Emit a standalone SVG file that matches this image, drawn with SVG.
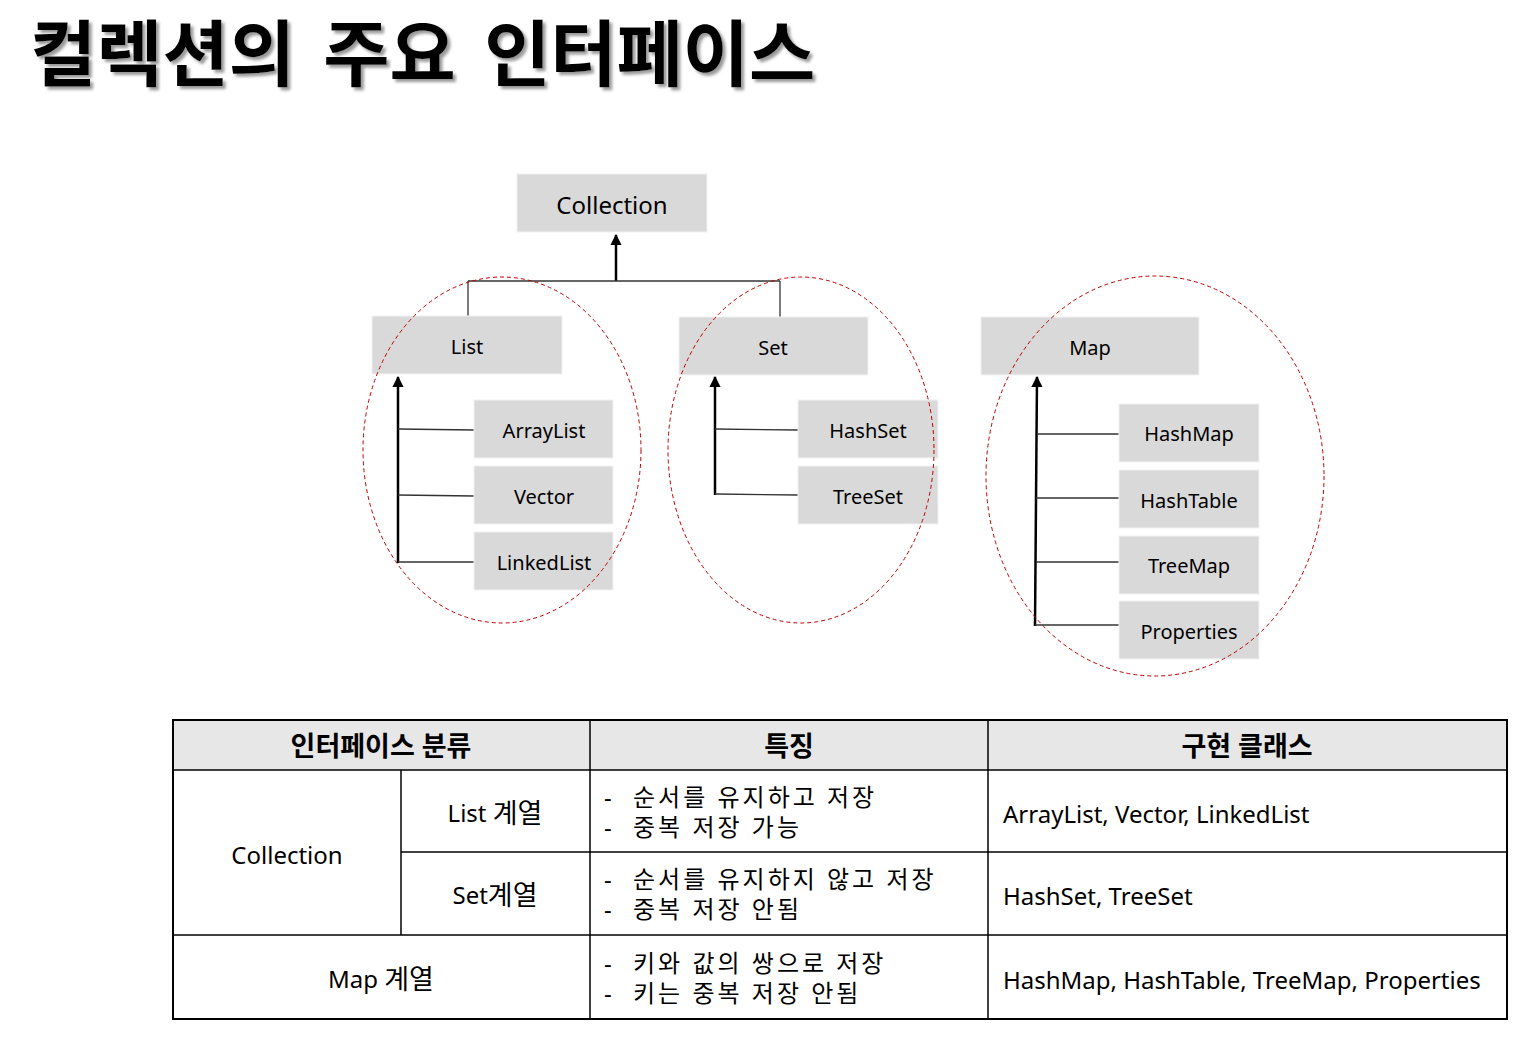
<svg xmlns="http://www.w3.org/2000/svg" width="1536" height="1046" viewBox="0 0 1536 1046">
<style>
text{font-family:"Noto Sans","Noto Sans CJK KR",sans-serif;fill:#000}
.k{font-size:27px}
.ks{letter-spacing:3px}
.box{fill:#d9d9d9;stroke:#f2f2f2;stroke-width:1}
.bt{font-size:20px;text-anchor:middle;dominant-baseline:central}
.ell{fill:none;stroke:#c00000;stroke-width:1;stroke-dasharray:4 3}
.ln{stroke:#333;stroke-width:1.3;fill:none}
.arr{stroke:#000;stroke-width:2.5;fill:none}
.tb{stroke:#000;stroke-width:1.5;fill:none}
.th{font-size:27px;font-weight:bold;text-anchor:middle;dominant-baseline:central}
.td{font-size:24px;dominant-baseline:central}
.tc{font-size:24px;text-anchor:middle;dominant-baseline:central}
.title{font-family:"Noto Sans CJK KR",sans-serif;font-size:72px;font-weight:bold;word-spacing:12px}
</style>
<defs>
<marker id="ah" viewBox="0 0 10 10" refX="9" refY="5" markerWidth="4.5" markerHeight="4.5" orient="auto"><path d="M0,0 L10,5 L0,10 z" fill="#000"/></marker>
<filter id="sh" filterUnits="userSpaceOnUse" x="0" y="0" width="900" height="110"><feDropShadow dx="3" dy="3" stdDeviation="1.5" flood-color="#808080" flood-opacity="0.8"/></filter>
</defs>
<g id="title">
<text class="title" x="30" y="80" filter="url(#sh)">컬렉션의 주요 인터페이스</text>
</g>
<g id="connectors">
<line class="arr" x1="616" y1="281" x2="616" y2="235" marker-end="url(#ah)"/>
<line class="ln" x1="468" y1="281" x2="780" y2="281"/>
<line class="ln" x1="468" y1="281" x2="468" y2="316"/>
<line class="ln" x1="780" y1="281" x2="780" y2="317"/>
<line class="arr" x1="398" y1="563" x2="398" y2="377" marker-end="url(#ah)"/>
<line class="ln" x1="398" y1="429" x2="474" y2="430"/>
<line class="ln" x1="398" y1="495" x2="474" y2="496"/>
<line class="ln" x1="398" y1="562" x2="474" y2="562"/>
<line class="arr" x1="715" y1="495" x2="715" y2="377" marker-end="url(#ah)"/>
<line class="ln" x1="715" y1="429" x2="798" y2="430"/>
<line class="ln" x1="715" y1="494" x2="798" y2="495"/>
<line class="arr" x1="1035" y1="626" x2="1037" y2="377" marker-end="url(#ah)"/>
<line class="ln" x1="1037" y1="434" x2="1119" y2="434"/>
<line class="ln" x1="1036" y1="498" x2="1119" y2="498"/>
<line class="ln" x1="1036" y1="562" x2="1119" y2="562"/>
<line class="ln" x1="1035" y1="625" x2="1119" y2="625"/>
</g>
<g id="n-collection"><rect class="box" x="517" y="174" width="190" height="58"/><text class="bt" x="612" y="204" style="font-size:24px">Collection</text></g>
<g id="n-list"><rect class="box" x="372" y="316" width="190" height="58"/><text class="bt" x="467" y="346">List</text></g>
<g id="n-set"><rect class="box" x="679" y="317" width="189" height="58"/><text class="bt" x="773" y="347">Set</text></g>
<g id="n-map"><rect class="box" x="981" y="317" width="218" height="58"/><text class="bt" x="1090" y="347">Map</text></g>
<g id="n-arraylist"><rect class="box" x="474" y="400" width="139" height="58"/><text class="bt" x="544" y="430">ArrayList</text></g>
<g id="n-vector"><rect class="box" x="474" y="466" width="139" height="58"/><text class="bt" x="544" y="496">Vector</text></g>
<g id="n-linkedlist"><rect class="box" x="474" y="532" width="139" height="58"/><text class="bt" x="544" y="562">LinkedList</text></g>
<g id="n-hashset"><rect class="box" x="798" y="400" width="140" height="58"/><text class="bt" x="868" y="430">HashSet</text></g>
<g id="n-treeset"><rect class="box" x="798" y="466" width="140" height="58"/><text class="bt" x="868" y="496">TreeSet</text></g>
<g id="n-hashmap"><rect class="box" x="1119" y="404" width="140" height="58"/><text class="bt" x="1189" y="433">HashMap</text></g>
<g id="n-hashtable"><rect class="box" x="1119" y="470" width="140" height="58"/><text class="bt" x="1189" y="500">HashTable</text></g>
<g id="n-treemap"><rect class="box" x="1119" y="536" width="140" height="58"/><text class="bt" x="1189" y="565">TreeMap</text></g>
<g id="n-properties"><rect class="box" x="1119" y="601" width="140" height="58"/><text class="bt" x="1189" y="631">Properties</text></g>
<g id="groups">
<ellipse class="ell" cx="502" cy="450" rx="139" ry="173"/>
<ellipse class="ell" cx="801" cy="450" rx="133" ry="173"/>
<ellipse class="ell" cx="1155" cy="476" rx="169" ry="200"/>
</g>
<g id="table">
<rect x="173" y="720" width="1334" height="50" fill="#e7e7e7"/>
<rect class="tb" x="173" y="720" width="1334" height="299" style="stroke-width:2"/>
<line class="tb" x1="173" y1="770" x2="1507" y2="770"/>
<line class="tb" x1="401" y1="852" x2="1507" y2="852"/>
<line class="tb" x1="173" y1="935" x2="1507" y2="935"/>
<line class="tb" x1="590" y1="720" x2="590" y2="1019"/>
<line class="tb" x1="988" y1="720" x2="988" y2="1019"/>
<line class="tb" x1="401" y1="770" x2="401" y2="935"/>
<text class="th" x="381" y="745">인터페이스 분류</text>
<text class="th" x="789" y="745">특징</text>
<text class="th" x="1247" y="745">구현 클래스</text>
<text class="tc" x="287" y="854">Collection</text>
<text class="tc" x="495" y="812">List <tspan class="k">계열</tspan></text>
<text class="tc" x="495" y="894">Set<tspan class="k">계열</tspan></text>
<text class="tc" x="381" y="978">Map <tspan class="k">계열</tspan></text>
<text class="td" x="604" y="796">-</text><text class="td k ks" x="633" y="796">순서를 유지하고 저장</text>
<text class="td" x="604" y="826">-</text><text class="td k ks" x="633" y="826">중복 저장 가능</text>
<text class="td" x="604" y="878">-</text><text class="td k ks" x="633" y="878">순서를 유지하지 않고 저장</text>
<text class="td" x="604" y="908">-</text><text class="td k ks" x="633" y="908">중복 저장 안됨</text>
<text class="td" x="604" y="962">-</text><text class="td k ks" x="633" y="962">키와 값의 쌍으로 저장</text>
<text class="td" x="604" y="992">-</text><text class="td k ks" x="633" y="992">키는 중복 저장 안됨</text>
<text class="td" x="1003" y="813">ArrayList, Vector, LinkedList</text>
<text class="td" x="1003" y="895">HashSet, TreeSet</text>
<text class="td" x="1003" y="979">HashMap, HashTable, TreeMap, Properties</text>
</g>
</svg>
